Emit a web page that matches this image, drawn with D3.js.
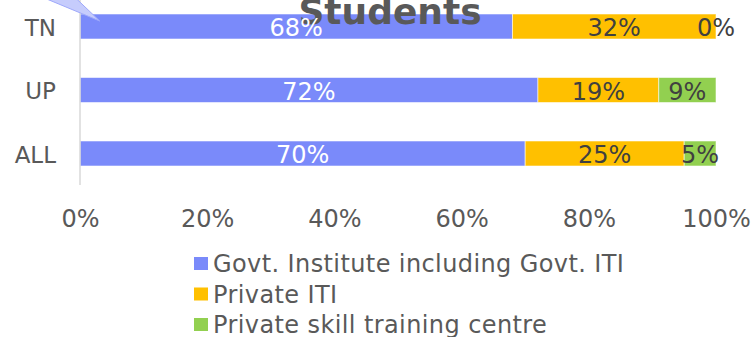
<!DOCTYPE html>
<html>
<head>
<meta charset="utf-8">
<script src="https://cdn.jsdelivr.net/npm/d3@7"></script>
<style>
  html, body { margin: 0; padding: 0; background: #fff; }
  svg { display: block; font-family: "DejaVu Sans", Verdana, sans-serif; }
</style>
</head>
<body>
<svg id="chart" width="754" height="337"></svg>
<script>
// Share of students by type of institute (%)
const categories = ["TN", "UP", "ALL"];
const seriesNames = ["Govt. Institute including Govt. ITI", "Private ITI", "Private skill training centre"];
const govt = [68, 72, 70];
const privateITI = [32, 19, 25];
const privateSkill = [0, 9, 5];
const tickValues = [0, 20, 40, 60, 80, 100];
const title = "Students";

const colors = ["#7a8afa", "#ffc000", "#92d050"];
const labelColors = ["#ffffff", "#404040", "#404040"];

const svg = d3.select("#chart");

const x = d3.scaleLinear().domain([0, 100]).range([80, 716]);
const y = d3.scaleBand().domain(categories).range([-5.25, 185.25])
  .paddingInner(0.6063).paddingOuter(0.30315);

const rows = categories.map((c, i) => ({ cat: c, v: [govt[i], privateITI[i], privateSkill[i]] }));
const stack = d3.stack().keys([0, 1, 2]).value((d, k) => d.v[k]);
const layers = stack(rows);

// stacked bars
const gBars = svg.append("g");
layers.forEach((layer, k) => {
  gBars.selectAll(null).data(layer).enter().append("rect")
    .attr("x", d => x(d[0]))
    .attr("y", d => y(d.data.cat))
    .attr("width", d => x(d[1]) - x(d[0]))
    .attr("height", y.bandwidth())
    .attr("fill", colors[k])
    .attr("stroke", "rgba(255,255,255,0.55)")
    .attr("stroke-width", 1);
});

// vertical category axis line
svg.append("line")
  .attr("x1", x(0)).attr("x2", x(0))
  .attr("y1", 0).attr("y2", 185)
  .attr("stroke", "#d9d9d9").attr("stroke-width", 1.5);

// category labels
svg.append("g").selectAll("text").data(categories).enter().append("text")
  .attr("x", 56)
  .attr("y", d => y(d) + y.bandwidth() / 2 + 9)
  .attr("text-anchor", "end")
  .attr("font-size", 23)
  .attr("fill", "#595959")
  .text(d => d);

// value axis tick labels
const xAxis = d3.axisBottom(x).tickValues(tickValues).tickFormat(d => d + "%").tickSize(0).tickPadding(0);
const gx = svg.append("g").attr("transform", "translate(0,209)").call(xAxis);
gx.select(".domain").remove();
gx.selectAll("text")
  .attr("font-family", "DejaVu Sans, Verdana, sans-serif")
  .attr("font-size", 24)
  .attr("fill", "#595959")
  .attr("dy", "0.76em");

// callout pointer reaching down onto the TN bar
const tipX = x(3.1), tipY = y("TN") + 7;
svg.append("path")
  .attr("d", `M${tipX - 53},-1 L${tipX - 23},-1 L${tipX},${tipY} Z`)
  .attr("fill", "#c6ccfc")
  .attr("stroke", "#9ea8fa")
  .attr("stroke-width", 1);

// chart title (bottom line)
svg.append("text")
  .attr("x", 390).attr("y", 23.5)
  .attr("text-anchor", "middle")
  .attr("font-size", 36)
  .attr("font-weight", "bold")
  .attr("fill", "#595959")
  .text(title);

// data labels
const gLab = svg.append("g");
layers.forEach((layer, k) => {
  gLab.selectAll(null).data(layer).enter().append("text")
    .attr("x", d => (x(d[0]) + x(d[1])) / 2)
    .attr("y", d => y(d.data.cat) + y.bandwidth() / 2 + 9.5)
    .attr("text-anchor", "middle")
    .attr("font-size", 24)
    .attr("fill", labelColors[k])
    .text(d => (d[1] - d[0]) + "%");
});

// legend
const legend = svg.append("g").attr("transform", "translate(194,0)");
seriesNames.forEach((name, k) => {
  const base = 272 + k * 30.5;
  legend.append("rect")
    .attr("x", 0).attr("y", base - 15)
    .attr("width", 14).attr("height", 13)
    .attr("fill", colors[k]);
  legend.append("text")
    .attr("x", 19).attr("y", base)
    .attr("font-size", 24)
    .attr("letter-spacing", 0.4)
    .attr("fill", "#595959")
    .text(name);
});
</script>
</body>
</html>
